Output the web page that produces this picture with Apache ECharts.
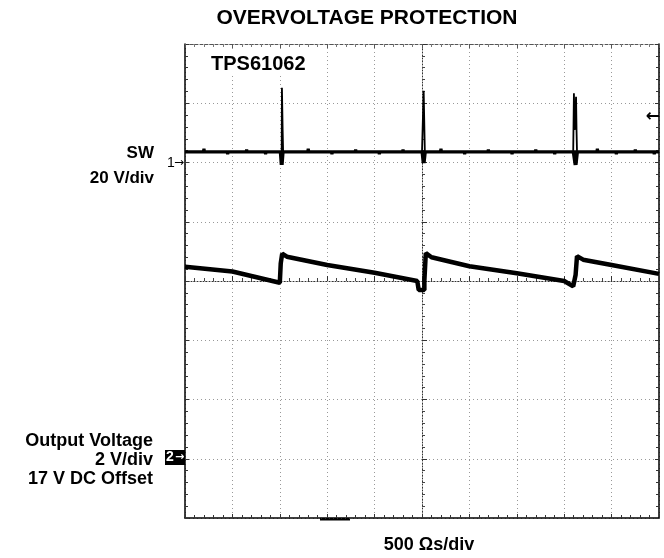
<!DOCTYPE html>
<html><head><meta charset="utf-8">
<script src="https://cdn.jsdelivr.net/npm/echarts@6/dist/echarts.min.js"></script>
<style>html,body{margin:0;padding:0;background:#fff}#c{width:664px;height:558px}</style>
</head><body><div id="c"></div>
<script>
// time in divisions (500 us/div), value in divisions
const swBaseTime = [0, 0.39, 0.4, 0.41, 0.89, 0.9, 0.91, 1.29, 1.3, 1.31, 1.69, 1.7, 1.71, 2.59, 2.6, 2.61, 3.09, 3.1, 3.11, 3.59, 3.6, 3.61, 4.09, 4.1, 4.11, 4.59, 4.6, 4.61, 5.39, 5.4, 5.41, 5.89, 5.9, 5.91, 6.39, 6.4, 6.41, 6.89, 6.9, 6.91, 7.39, 7.4, 7.41, 7.79, 7.8, 7.81, 8.69, 8.7, 8.71, 9.09, 9.1, 9.11, 9.49, 9.5, 9.51, 9.89, 9.9, 9.91, 10];
const swBaseVal  = [2.18, 2.18, 2.23, 2.18, 2.18, 2.14, 2.18, 2.18, 2.22, 2.18, 2.18, 2.14, 2.18, 2.18, 2.23, 2.18, 2.18, 2.14, 2.18, 2.18, 2.22, 2.18, 2.18, 2.14, 2.18, 2.18, 2.22, 2.18, 2.18, 2.23, 2.18, 2.18, 2.14, 2.18, 2.18, 2.22, 2.18, 2.18, 2.14, 2.18, 2.18, 2.22, 2.18, 2.18, 2.14, 2.18, 2.18, 2.23, 2.18, 2.18, 2.14, 2.18, 2.18, 2.22, 2.18, 2.18, 2.14, 2.18, 2.18];
const swSpikeTime = [1.99, 2.04, 2.045, 2.06, 2.07, null, 5.0, 5.035, 5.06, null, 8.19, 8.205, 8.22, 8.25, 8.26, 8.27];
const swSpikeVal  = [2.18, 2.18, 3.26, 2.55, 2.18, null, 2.18, 3.21, 2.18, null, 2.18, 3.17, 2.55, 3.11, 2.55, 2.18];
const swDipTime = [2.02, 2.04, 2.06, null, 5.01, 5.035, 5.06, null, 8.2, 8.24, 8.27];
const swDipVal  = [2.18, 1.96, 2.18, null, 2.18, 1.99, 2.18, null, 2.18, 1.96, 2.18];
const outTime = [0, 1.0, 2.0, 2.02, 2.05, 2.15, 3.0, 4.0, 4.9, 4.93, 4.93, 5.05, 5.05, 5.08, 5.2, 6.0, 7.0, 8.0, 8.19, 8.24, 8.27, 8.4, 9.0, 10];
const outVal  = [0.24, 0.16, -0.03, 0.3, 0.46, 0.41, 0.27, 0.14, 0.0, -0.02, -0.15, -0.15, 0.0, 0.47, 0.40, 0.25, 0.13, 0.0, -0.09, 0.1, 0.42, 0.36, 0.27, 0.12];
const xTicks = [0, 10];
const yTicks = [-4, 4];

function pairs(t, v) { return t.map((x, i) => x === null ? [null, null] : [x, v[i]]); }
const FONT = '"Liberation Sans", Arial, sans-serif';
const gridRect = { left: 185, top: 44, width: 474, height: 474 };
const dotted = { type: [1, 3], color: '#999', width: 1 };
const noLabel = { show: false };

const chart = echarts.init(document.getElementById('c'), null, { renderer: 'canvas' });
chart.setOption({
  animation: false,
  grid: [Object.assign({}, gridRect), Object.assign({}, gridRect)],
  xAxis: [
    { gridIndex: 0, type: 'value', min: xTicks[0], max: xTicks[1], interval: 1, position: 'bottom',
      axisLine: { onZero: false, lineStyle: { color: '#000', width: 1.5 } },
      axisTick: { show: true, inside: true, length: 4, lineStyle: { color: '#333' } },
      minorTick: { show: true, splitNumber: 5, length: 3, lineStyle: { color: '#333' } },
      axisLabel: noLabel, splitLine: { show: true, lineStyle: dotted } },
    { gridIndex: 0, type: 'value', min: xTicks[0], max: xTicks[1], interval: 1, position: 'top',
      axisLine: { onZero: false, lineStyle: { color: '#555', width: 1, type: [3, 2] } },
      axisTick: { show: true, inside: true, length: 4, lineStyle: { color: '#555' } },
      minorTick: { show: true, splitNumber: 5, length: 3, lineStyle: { color: '#777' } },
      axisLabel: noLabel, splitLine: { show: false } },
    { gridIndex: 1, type: 'value', min: -5, max: 5, interval: 1, position: 'bottom',
      axisLine: { onZero: true, lineStyle: { color: '#333', width: 1, type: [1, 2] } },
      axisTick: { show: true, inside: true, length: 5, lineStyle: { color: '#333' } },
      minorTick: { show: true, splitNumber: 5, length: 3, lineStyle: { color: '#444' } },
      axisLabel: noLabel, splitLine: { show: false } }
  ],
  yAxis: [
    { gridIndex: 0, type: 'value', min: yTicks[0], max: yTicks[1], interval: 1, position: 'left',
      axisLine: { onZero: false, lineStyle: { color: '#000', width: 1.5 } },
      axisTick: { show: true, inside: true, length: 4, lineStyle: { color: '#333' } },
      minorTick: { show: true, splitNumber: 5, length: 3, lineStyle: { color: '#333' } },
      axisLabel: noLabel, splitLine: { show: true, lineStyle: dotted } },
    { gridIndex: 0, type: 'value', min: yTicks[0], max: yTicks[1], interval: 1, position: 'right',
      axisLine: { onZero: false, lineStyle: { color: '#000', width: 1.5 } },
      axisTick: { show: true, inside: true, length: 4, lineStyle: { color: '#333' } },
      minorTick: { show: true, splitNumber: 5, length: 3, lineStyle: { color: '#333' } },
      axisLabel: noLabel, splitLine: { show: false } },
    { gridIndex: 1, type: 'value', min: -4, max: 4, interval: 1, position: 'left',
      axisLine: { onZero: true, lineStyle: { color: '#333', width: 1, type: [1, 2] } },
      axisTick: { show: true, inside: true, length: 5, lineStyle: { color: '#333' } },
      minorTick: { show: true, splitNumber: 5, length: 3, lineStyle: { color: '#444' } },
      axisLabel: noLabel, splitLine: { show: false } }
  ],
  series: [
    { type: 'line', xAxisIndex: 0, yAxisIndex: 0, data: pairs(outTime, outVal), symbol: 'none',
      lineStyle: { color: '#000', width: 4.5, join: 'bevel' }, z: 5 },
    { type: 'line', xAxisIndex: 0, yAxisIndex: 0, data: pairs(swBaseTime, swBaseVal), symbol: 'none',
      lineStyle: { color: '#000', width: 3.2, join: 'bevel' }, z: 5 },
    { type: 'line', xAxisIndex: 0, yAxisIndex: 0, data: pairs(swSpikeTime, swSpikeVal), symbol: 'none',
      connectNulls: false, lineStyle: { color: '#000', width: 1.8, join: 'bevel' }, z: 6 },
    { type: 'line', xAxisIndex: 0, yAxisIndex: 0, data: pairs(swDipTime, swDipVal), symbol: 'none',
      connectNulls: false, lineStyle: { color: '#000', width: 4, join: 'bevel' }, z: 6 }
  ],
  graphic: [
    { type: 'text', x: 367, y: 18, style: { text: 'OVERVOLTAGE PROTECTION', font: 'bold 21px ' + FONT, fill: '#000', textAlign: 'center', textVerticalAlign: 'middle' } },
    { type: 'rect', shape: { x: 205, y: 52, width: 106, height: 24 }, z: 9, style: { fill: '#fff' } },
    { type: 'text', x: 211, y: 64, z: 10, style: { text: 'TPS61062', font: 'bold 20px ' + FONT, fill: '#000', textAlign: 'left', textVerticalAlign: 'middle' } },
    { type: 'text', x: 154, y: 153, style: { text: 'SW', font: 'bold 17px ' + FONT, fill: '#000', textAlign: 'right', textVerticalAlign: 'middle' } },
    { type: 'text', x: 154, y: 178, style: { text: '20 V/div', font: 'bold 17px ' + FONT, fill: '#000', textAlign: 'right', textVerticalAlign: 'middle' } },
    { type: 'text', x: 153, y: 441.5, style: { text: 'Output Voltage', font: 'bold 18px ' + FONT, fill: '#000', textAlign: 'right', textVerticalAlign: 'middle' } },
    { type: 'text', x: 153, y: 460, style: { text: '2 V/div', font: 'bold 18px ' + FONT, fill: '#000', textAlign: 'right', textVerticalAlign: 'middle' } },
    { type: 'text', x: 153, y: 479.5, style: { text: '17 V DC Offset', font: 'bold 18px ' + FONT, fill: '#000', textAlign: 'right', textVerticalAlign: 'middle' } },
    { type: 'text', x: 429, y: 545, style: { text: '500 Ωs/div', font: 'bold 18px ' + FONT, fill: '#000', textAlign: 'center', textVerticalAlign: 'middle' } },
    { type: 'text', x: 167, y: 163, style: { text: '1', font: '14px ' + FONT, fill: '#000', textAlign: 'left', textVerticalAlign: 'middle' } },
    { type: 'text', x: 174, y: 163, style: { text: '→', font: '12px "DejaVu Sans"', fill: '#000', textAlign: 'left', textVerticalAlign: 'middle' } },
    { type: 'rect', shape: { x: 165, y: 450, width: 20, height: 15 }, style: { fill: '#000' } },
    { type: 'text', x: 166, y: 457.5, z: 10, style: { text: '2', font: 'bold 14px ' + FONT, fill: '#fff', textAlign: 'left', textVerticalAlign: 'middle' } },
    { type: 'text', x: 175, y: 457.5, z: 10, style: { text: '→', font: 'bold 11px "DejaVu Sans"', fill: '#fff', textAlign: 'left', textVerticalAlign: 'middle' } },
    { type: 'text', x: 660, y: 117, z: 10, style: { text: '←', font: 'bold 17px "DejaVu Sans"', fill: '#000', textAlign: 'right', textVerticalAlign: 'middle' } },
    { type: 'rect', shape: { x: 320, y: 518, width: 30, height: 2.5 }, style: { fill: '#000' } }
  ]
});
</script></body></html>
